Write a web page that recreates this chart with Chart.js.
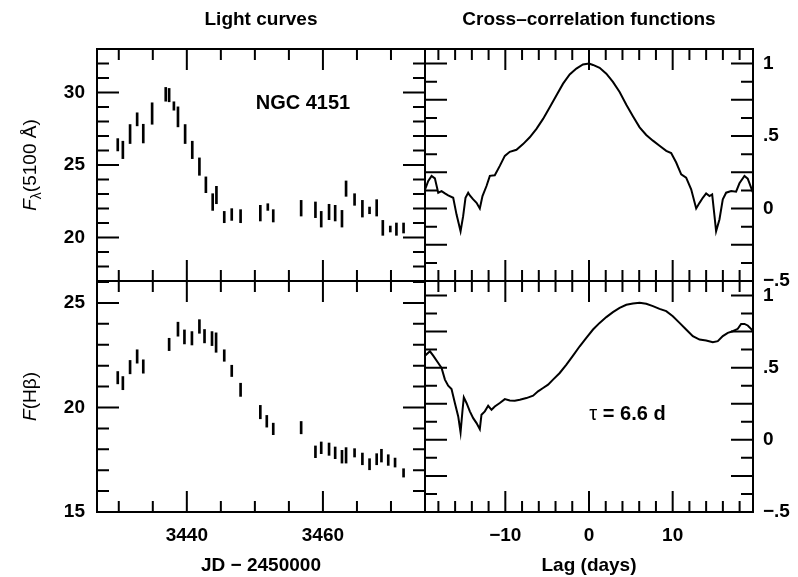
<!DOCTYPE html>
<html>
<head>
<meta charset="utf-8">
<script src="https://cdn.jsdelivr.net/npm/chart.js@4"></script>
<style>
body { margin: 0; background: #fff; }
#wrap { position: relative; width: 798px; height: 577px; }
#wrap canvas { position: absolute; left: 0; top: 0; }
</style>
</head>
<body>
<div id="wrap">
  <canvas id="tl" width="798" height="577"></canvas>
  <canvas id="bl" width="798" height="577"></canvas>
  <canvas id="tr" width="798" height="577"></canvas>
  <canvas id="br" width="798" height="577"></canvas>
</div>
<script>
// continuum light curve, F(5100A): day, bar bottom, bar top
const contDay = [3429.85, 3430.6, 3431.66, 3432.7, 3433.6, 3434.9, 3436.9, 3437.4, 3438.1, 3438.7, 3439.75, 3440.8, 3441.85, 3442.8, 3443.8, 3444.35, 3445.5, 3446.6, 3447.9, 3450.8, 3451.9, 3452.7, 3456.8, 3458.9, 3459.75, 3460.9, 3461.8, 3462.8, 3463.4, 3464.65, 3465.8, 3466.85, 3467.9, 3468.8, 3469.9, 3470.8, 3471.85]
const contLo = [25.97, 25.44, 26.48, 27.70, 26.52, 27.81, 29.40, 29.36, 28.78, 27.63, 26.48, 25.44, 24.29, 23.09, 21.87, 22.33, 21.02, 21.18, 21.02, 21.14, 21.87, 21.07, 21.48, 21.37, 20.72, 21.23, 21.14, 20.72, 22.84, 22.22, 21.41, 21.64, 21.48, 20.15, 20.38, 20.15, 20.31]
const contHi = [26.82, 26.64, 27.79, 28.60, 27.81, 29.29, 30.35, 30.28, 29.36, 29.01, 27.79, 26.64, 25.49, 24.18, 23.02, 23.53, 21.80, 21.99, 21.92, 22.22, 22.33, 21.92, 22.56, 22.45, 21.80, 22.29, 22.22, 21.87, 23.90, 23.02, 22.56, 22.10, 22.61, 21.18, 20.79, 21.00, 21.00]

// H-beta light curve
const hbDay = [3429.85, 3430.6, 3431.66, 3432.7, 3433.6, 3437.4, 3438.7, 3439.65, 3440.75, 3441.85, 3442.6, 3443.7, 3444.3, 3445.5, 3446.6, 3447.9, 3450.8, 3451.75, 3452.7, 3456.8, 3458.9, 3459.75, 3460.9, 3461.8, 3462.8, 3463.4, 3464.65, 3465.8, 3466.85, 3467.9, 3468.6, 3469.6, 3470.6, 3471.85]
const hbLo = [21.13, 20.85, 21.61, 22.12, 21.64, 22.72, 23.41, 23.04, 22.99, 23.55, 23.09, 22.96, 22.64, 22.21, 21.48, 20.53, 19.46, 19.06, 18.70, 18.74, 17.60, 17.79, 17.71, 17.55, 17.34, 17.34, 17.63, 17.26, 17.02, 17.26, 17.39, 17.23, 17.15, 16.67]
const hbHi = [21.72, 21.48, 22.25, 22.76, 22.28, 23.31, 24.08, 23.71, 23.63, 24.20, 23.73, 23.63, 23.57, 22.76, 22.02, 21.16, 20.10, 19.62, 19.25, 19.33, 18.16, 18.35, 18.30, 18.11, 17.95, 18.08, 18.03, 17.82, 17.55, 17.79, 18.00, 17.74, 17.58, 17.07]

// auto-correlation of the continuum
const acfLag = [-19.6, -19.21, -18.81, -18.42, -18.02, -17.62, -17.22, -16.83, -16.23, -15.83, -15.35, -15.04, -14.76, -14.44, -14.24, -13.84, -13.44, -13.05, -12.73, -12.25, -11.85, -11.26, -10.66, -10.06, -9.47, -8.67, -7.88, -7.08, -6.28, -5.49, -4.69, -3.90, -3.10, -2.31, -1.51, -0.72, 0, 0.48, 1.27, 2.07, 2.86, 3.66, 4.46, 5.25, 6.05, 6.84, 7.64, 8.43, 9.23, 9.82, 10.42, 11.02, 11.61, 12.21, 12.81, 13.21, 13.60, 14.0, 14.40, 14.72, 15.0, 15.19, 15.59, 15.99, 16.39, 16.99, 17.58, 17.98, 18.58, 18.97, 19.45, 19.6]
const acfR = [0.13, 0.19, 0.225, 0.208, 0.109, 0.12, 0.104, 0.09, 0.074, -0.042, -0.157, -0.053, 0.074, 0.109, 0.09, 0.063, 0.039, 0.0, 0.086, 0.155, 0.225, 0.229, 0.294, 0.363, 0.391, 0.405, 0.444, 0.491, 0.549, 0.618, 0.699, 0.78, 0.861, 0.924, 0.965, 0.993, 1.0, 0.99, 0.97, 0.93, 0.873, 0.803, 0.715, 0.637, 0.56, 0.507, 0.468, 0.433, 0.398, 0.382, 0.317, 0.236, 0.213, 0.132, 0.0, 0.039, 0.074, 0.104, 0.086, 0.097, -0.053, -0.157, -0.076, 0.063, 0.109, 0.12, 0.116, 0.174, 0.225, 0.206, 0.132, 0.11]

// cross-correlation continuum vs H-beta
const ccfLag = [-19.6, -19.01, -18.62, -18.02, -17.62, -17.22, -16.83, -16.43, -16.03, -15.63, -15.35, -15.11, -14.96, -14.64, -14.24, -13.84, -13.44, -13.05, -12.85, -12.45, -12.05, -11.65, -11.26, -10.66, -10.06, -9.47, -8.87, -8.27, -7.48, -6.68, -6.09, -5.49, -4.89, -4.30, -3.50, -2.70, -1.91, -1.11, -0.32, 0.48, 1.27, 2.07, 2.86, 3.66, 4.46, 5.25, 6.05, 6.84, 7.64, 8.43, 9.23, 10.02, 10.82, 11.61, 12.41, 13.21, 14.0, 14.80, 15.39, 15.99, 16.59, 17.18, 17.78, 18.18, 18.58, 18.97, 19.45, 19.6]
const ccfR = [0.583, 0.613, 0.583, 0.532, 0.498, 0.417, 0.375, 0.352, 0.255, 0.162, 0.051, 0.208, 0.294, 0.255, 0.197, 0.15, 0.116, 0.074, 0.174, 0.197, 0.236, 0.208, 0.231, 0.255, 0.282, 0.273, 0.271, 0.278, 0.289, 0.306, 0.336, 0.359, 0.382, 0.417, 0.463, 0.521, 0.583, 0.648, 0.706, 0.764, 0.81, 0.85, 0.884, 0.914, 0.935, 0.944, 0.949, 0.942, 0.926, 0.907, 0.891, 0.856, 0.81, 0.764, 0.718, 0.694, 0.688, 0.676, 0.683, 0.718, 0.741, 0.752, 0.769, 0.803, 0.803, 0.792, 0.764, 0.75]

// tick labels
const dayTicks = [3440, 3460]
const contTicks = [20, 25, 30]
const hbTicks = [15, 20, 25]
const lagTicks = [-10, 0, 10]
const lagLabels = ['\u221210', '0', '10']
const rTicks = [-0.5, 0, 0.5, 1]
const rLabels = ['\u2212.5', '0', '.5', '1']

// page geometry
const W = 798, H = 577
const L = 97, M = 425, R = 753, T = 49, C = 281, B = 512

Chart.defaults.font.family = "'Liberation Sans', Arial, Helvetica, sans-serif"
Chart.defaults.color = '#000'
Chart.defaults.animation = false
Chart.defaults.events = []
Chart.defaults.plugins.legend.display = false
Chart.defaults.plugins.tooltip.enabled = false

const tickFont = { size: 19, weight: 'bold' }
const SANS = "'Liberation Sans', Arial, Helvetica, sans-serif"

// frame plus inward ticks on all four sides
const framePlugin = {
  id: 'frame',
  afterDatasetsDraw(chart, args, o) {
    const { ctx, chartArea: a, scales } = chart
    ctx.save()
    ctx.strokeStyle = '#000'
    ctx.lineWidth = 2
    ctx.beginPath()
    const steps = (s, step) => {
      const out = []
      for (let v = Math.ceil(s.min / step - 1e-9) * step; v <= s.max + 1e-9; v += step) out.push(+v.toFixed(4))
      return out
    }
    const isMajor = (v, major) => Math.abs(v / major - Math.round(v / major)) < 1e-6
    steps(scales.x, o.xMinor).forEach(v => {
      const p = scales.x.getPixelForValue(v)
      const len = isMajor(v, o.xMajor) ? 21 : 11
      ctx.moveTo(p, a.bottom); ctx.lineTo(p, a.bottom - len)
      ctx.moveTo(p, a.top); ctx.lineTo(p, a.top + len)
    })
    steps(scales.y, o.yMinor).forEach(v => {
      const p = scales.y.getPixelForValue(v)
      const len = isMajor(v, o.yMajor) ? 22 : 12
      ctx.moveTo(a.left, p); ctx.lineTo(a.left + len, p)
      ctx.moveTo(a.right, p); ctx.lineTo(a.right - len, p)
    })
    ctx.stroke()
    ctx.strokeRect(a.left, a.top, a.width, a.height)
    ctx.restore()
  }
}

function drawParts(ctx, parts, cx, cy, rot) {
  ctx.save()
  ctx.translate(cx, cy)
  if (rot) ctx.rotate(rot)
  ctx.textAlign = 'left'
  ctx.textBaseline = 'alphabetic'
  ctx.fillStyle = '#000'
  let w = 0
  parts.forEach(p => { ctx.font = p.font; w += ctx.measureText(p.t).width })
  let x = -w / 2
  parts.forEach(p => {
    ctx.font = p.font
    ctx.fillText(p.t, x, p.dy || 0)
    x += ctx.measureText(p.t).width
  })
  ctx.restore()
}

// column titles, rotated y titles and in-panel notes
const notesPlugin = {
  id: 'notes',
  afterDraw(chart, args, o) {
    const { ctx, chartArea: a, scales } = chart
    if (o.colTitle) drawParts(ctx, [{ t: o.colTitle, font: 'bold 19px ' + SANS }], (a.left + a.right) / 2, 25)
    if (o.yTitle) drawParts(ctx, o.yTitle, 36, (a.top + a.bottom) / 2, -Math.PI / 2)
    ;(o.texts || []).forEach(n => {
      drawParts(ctx, n.parts, scales.x.getPixelForValue(n.x), scales.y.getPixelForValue(n.y))
    })
  }
}

const hiddenGrid = { display: false, drawTicks: false }

function leftY(min, max, ticks) {
  return {
    min, max, position: 'left',
    grid: hiddenGrid, border: { display: false },
    afterFit: s => { s.width = L },
    afterBuildTicks: s => { s.ticks = ticks.map(v => ({ value: v })) },
    ticks: { padding: 12, font: tickFont }
  }
}

function rightY() {
  return {
    min: -0.5, max: 1.1, position: 'right',
    grid: hiddenGrid, border: { display: false },
    afterFit: s => { s.width = W - R },
    afterBuildTicks: s => { s.ticks = rTicks.map(v => ({ value: v })) },
    ticks: { padding: 10, font: tickFont, callback: v => rLabels[rTicks.indexOf(v)] }
  }
}

function dayX(show) {
  const x = { type: 'linear', min: 3426.8, max: 3475, offset: false, display: show,
    grid: hiddenGrid, border: { display: false } }
  if (show) {
    x.afterFit = s => { s.height = H - B }
    x.afterBuildTicks = s => { s.ticks = dayTicks.map(v => ({ value: v })) }
    x.ticks = { padding: 12, font: tickFont, maxRotation: 0, callback: v => String(v) }
    x.title = { display: true, text: 'JD \u2212 2450000', font: { size: 19, weight: 'bold' }, padding: { top: 0, bottom: 0 } }
  }
  return x
}

function lagX(show) {
  const x = { type: 'linear', min: -19.6, max: 19.6, display: show,
    grid: hiddenGrid, border: { display: false } }
  if (show) {
    x.afterFit = s => { s.height = H - B }
    x.afterBuildTicks = s => { s.ticks = lagTicks.map(v => ({ value: v })) }
    x.ticks = { padding: 12, font: tickFont, maxRotation: 0, callback: v => lagLabels[lagTicks.indexOf(v)] }
    x.title = { display: true, text: 'Lag (days)', font: { size: 19, weight: 'bold' }, padding: { top: 0, bottom: 0 } }
  }
  return x
}

const barStyle = { backgroundColor: '#000', barThickness: 2, borderWidth: 0 }
const lineStyle = { borderColor: '#000', borderWidth: 2, pointRadius: 0, tension: 0, fill: false }

new Chart('tl', {
  type: 'bar',
  data: { datasets: [{ ...barStyle, data: contDay.map((d, i) => ({ x: d, y: [contLo[i], contHi[i]] })) }] },
  options: {
    responsive: false,
    layout: { padding: { left: 0, right: W - M, top: T, bottom: H - C } },
    scales: { x: dayX(false), y: leftY(17, 33, contTicks) },
    plugins: {
      frame: { xMinor: 5, xMajor: 20, yMinor: 1, yMajor: 5 },
      notes: {
        colTitle: 'Light curves',
        yTitle: [
          { t: 'F', font: 'italic 19px ' + SANS },
          { t: '\u03bb', font: '14px ' + SANS, dy: 5 },
          { t: '(5100 \u00c5)', font: '19px ' + SANS }
        ],
        texts: [{ x: 3457.07, y: 28.86, parts: [{ t: 'NGC 4151', font: 'bold 20px ' + SANS }] }]
      }
    }
  },
  plugins: [framePlugin, notesPlugin]
})

new Chart('bl', {
  type: 'bar',
  data: { datasets: [{ ...barStyle, data: hbDay.map((d, i) => ({ x: d, y: [hbLo[i], hbHi[i]] })) }] },
  options: {
    responsive: false,
    layout: { padding: { left: 0, right: W - M, top: C, bottom: 0 } },
    scales: { x: dayX(true), y: leftY(15, 26.05, hbTicks) },
    plugins: {
      frame: { xMinor: 5, xMajor: 20, yMinor: 1, yMajor: 5 },
      notes: {
        yTitle: [
          { t: 'F', font: 'italic 19px ' + SANS },
          { t: '(H\u03b2)', font: '19px ' + SANS }
        ]
      }
    }
  },
  plugins: [framePlugin, notesPlugin]
})

new Chart('tr', {
  type: 'line',
  data: { datasets: [{ ...lineStyle, data: acfLag.map((x, i) => ({ x, y: acfR[i] })) }] },
  options: {
    responsive: false,
    layout: { padding: { left: M, right: 0, top: T, bottom: H - C } },
    scales: { x: lagX(false), y: rightY() },
    plugins: {
      frame: { xMinor: 2, xMajor: 10, yMinor: 0.125, yMajor: 0.25 },
      notes: { colTitle: 'Cross\u2013correlation functions' }
    }
  },
  plugins: [framePlugin, notesPlugin]
})

new Chart('br', {
  type: 'line',
  data: { datasets: [{ ...lineStyle, data: ccfLag.map((x, i) => ({ x, y: ccfR[i] })) }] },
  options: {
    responsive: false,
    layout: { padding: { left: M, right: 0, top: C, bottom: 0 } },
    scales: { x: lagX(true), y: rightY() },
    plugins: {
      frame: { xMinor: 2, xMajor: 10, yMinor: 0.125, yMajor: 0.25 },
      notes: {
        texts: [{ x: 4.6, y: 0.137, parts: [
          { t: '\u03c4', font: '20px ' + SANS },
          { t: ' = 6.6 d', font: 'bold 20px ' + SANS }
        ] }]
      }
    }
  },
  plugins: [framePlugin, notesPlugin]
})
</script>
</body>
</html>
